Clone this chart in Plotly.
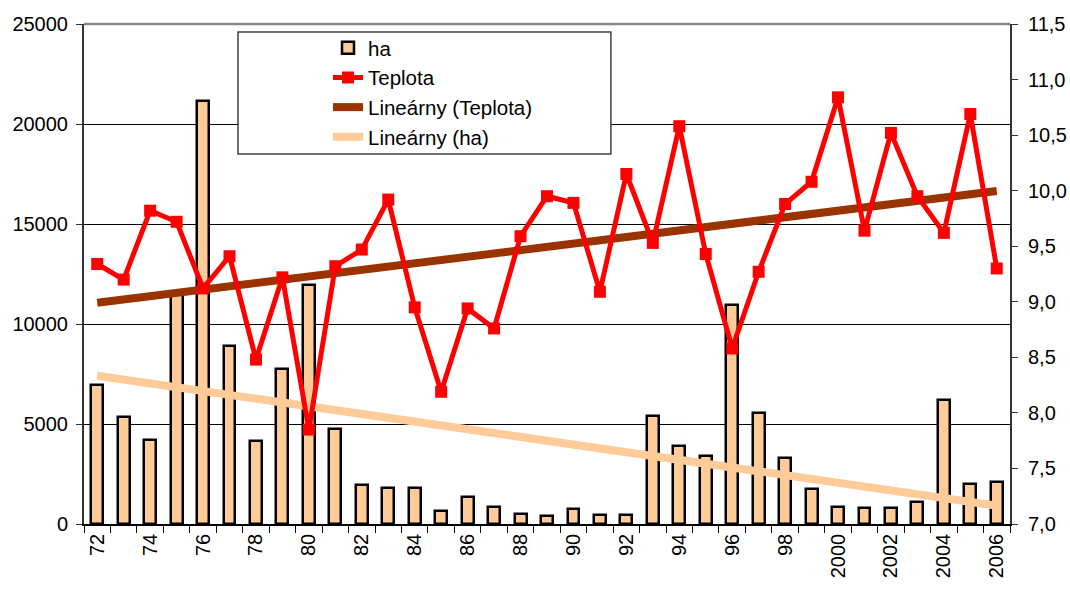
import numpy as np
import plotly.graph_objects as go

# Years (two-digit until 1999, then full) and the two series
years = ["72", "73", "74", "75", "76", "77", "78", "79", "80", "81",
         "82", "83", "84", "85", "86", "87", "88", "89", "90", "91",
         "92", "93", "94", "95", "96", "97", "98", "99", "2000", "2001",
         "2002", "2003", "2004", "2005", "2006"]
ha = [6950, 5350, 4200, 11500, 21150, 8900, 4150, 7750, 11950, 4750,
      1950, 1800, 1800, 650, 1350, 850, 500, 400, 750, 450,
      450, 5400, 3900, 3400, 10950, 5550, 3300, 1750, 850, 800,
      800, 1100, 6200, 2000, 2100]
teplota = [9.34, 9.20, 9.82, 9.72, 9.12, 9.41, 8.48, 9.22, 7.85, 9.32,
           9.47, 9.92, 8.95, 8.19, 8.94, 8.76, 9.59, 9.95, 9.89, 9.09,
           10.15, 9.53, 10.58, 9.43, 8.58, 9.27, 9.88, 10.08, 10.84, 9.64,
           10.52, 9.95, 9.62, 10.69, 9.30]

x = np.arange(len(years))

# Linear trends (least squares) for both series
ha_fit = np.polyval(np.polyfit(x, ha, 1), x)
t_fit = np.polyval(np.polyfit(x, teplota, 1), x)

FONT = "Liberation Sans, Arial, sans-serif"
BAR = "#FFCC99"

fig = go.Figure()

fig.add_trace(go.Bar(
    x=x, y=ha, name="ha", width=0.45,
    marker=dict(color=BAR, line=dict(color="black", width=2.5)),
    legendrank=1,
))
fig.add_trace(go.Scatter(
    x=x, y=ha_fit, name="Lineárny (ha)", mode="lines",
    line=dict(color=BAR, width=8), legendrank=4,
))
fig.add_trace(go.Scatter(
    x=x, y=t_fit, name="Lineárny (Teplota)", mode="lines", yaxis="y2",
    line=dict(color="#993300", width=8), legendrank=3,
))
fig.add_trace(go.Scatter(
    x=x, y=teplota, name="Teplota", mode="lines+markers", yaxis="y2",
    line=dict(color="#FF0000", width=5),
    marker=dict(symbol="square", size=12, color="#FF0000"),
    legendrank=2,
))

boundaries = list(np.arange(-0.5, len(years), 1.0))
label_idx = list(range(0, len(years), 2))

fig.update_layout(
    width=1070, height=590,
    margin=dict(l=84, r=60, t=24, b=66),
    paper_bgcolor="white", plot_bgcolor="white",
    font=dict(family=FONT, size=20, color="black"),
    separators=", ",
    showlegend=True,
    bargap=0,
    xaxis=dict(
        range=[-0.5, len(years) - 0.5], automargin=False,
        tickmode="array", tickvals=label_idx,
        ticktext=[years[i] for i in label_idx],
        tickangle=-90, ticks="", showgrid=False, zeroline=False,
        showline=True, linecolor="black", linewidth=1.5,
        minor=dict(tickmode="array", tickvals=boundaries, ticks="outside",
                   ticklen=7, tickcolor="black", tickwidth=1, showgrid=False),
    ),
    yaxis=dict(
        range=[0, 25000], tickmode="linear", tick0=0, dtick=5000,
        automargin=False,
        tickformat="d", showgrid=True, gridcolor="black", gridwidth=1,
        zeroline=False, showline=True, linecolor="#333333", linewidth=2,
        ticks="outside", ticklen=6, tickcolor="#333333", tickwidth=1,
        ticklabelstandoff=4,
    ),
    yaxis2=dict(
        range=[7, 11.5], tickmode="linear", tick0=7, dtick=0.5,
        automargin=False,
        tickformat=".1f", overlaying="y", side="right", showgrid=False,
        zeroline=False, showline=True, linecolor="#333333", linewidth=2,
        ticks="outside", ticklen=6, tickcolor="#333333", tickwidth=1,
        ticklabelstandoff=6,
    ),
    legend=dict(
        x=0.2635, y=0.992, xanchor="left", yanchor="top",
        bgcolor="rgba(0,0,0,0)", borderwidth=0,
        font=dict(family=FONT, size=20.5, color="black"),
        traceorder="normal",
    ),
    shapes=[
        # legend frame
        dict(type="rect", xref="paper", yref="paper",
             x0=0.1663, x1=0.569, y0=0.74, y1=0.984,
             line=dict(color="#404040", width=1.5), fillcolor="white",
             layer="above"),
        # top border of the plot area
        dict(type="line", xref="paper", yref="paper",
             x0=0, x1=1, y0=1, y1=1,
             line=dict(color="#888888", width=2.5), layer="above"),
    ],
)

fig.write_html("out.html")
